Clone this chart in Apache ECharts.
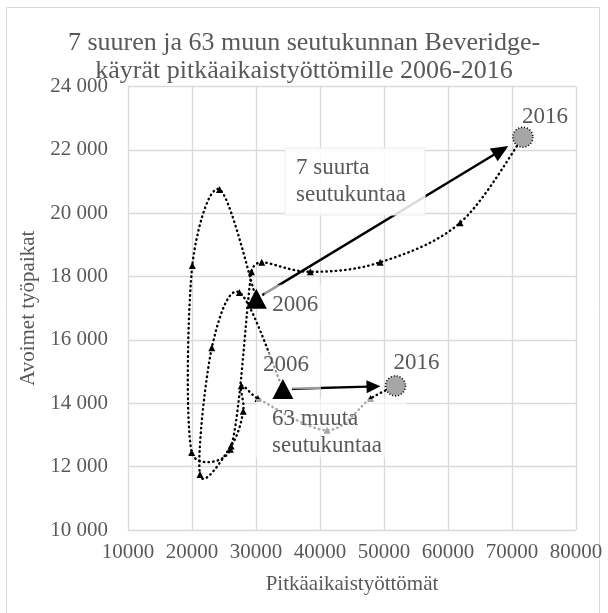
<!DOCTYPE html>
<html>
<head>
<meta charset="utf-8">
<script src="https://cdn.jsdelivr.net/npm/echarts@6/dist/echarts.min.js"></script>
<style>
html,body{margin:0;padding:0;background:#fff;}
#c{width:608px;height:613px;}
</style>
</head>
<body>
<div id="c"></div>
<script>
// ---- data ----
const years = [2006, 2007, 2008, 2009, 2010, 2011, 2012, 2013, 2014, 2015, 2016];
// 7 suurta seutukuntaa
const suuretX = [30050, 24300, 20050, 19950, 26000, 29300, 30900, 38500, 49400, 61900, 71700];
const suuretY = [17300, 20750, 18350, 12450, 12550, 18150, 18450, 18150, 18450, 19700, 22400];
// 63 muuta seutukuntaa
const muutX = [34200, 27400, 23100, 21250, 26100, 28000, 27700, 30300, 41100, 47900, 51800];
const muutY = [14450, 17500, 15750, 11750, 12650, 13750, 14550, 14150, 13150, 14150, 14550];
const xTicks = [10000, 20000, 30000, 40000, 50000, 60000, 70000, 80000];
const yTicks = [10000, 12000, 14000, 16000, 18000, 20000, 22000, 24000];
const seriesNames = ['7 suurta seutukuntaa', '63 muuta seutukuntaa'];
const labelNames = ['7 suurta\nseutukuntaa', '63 muuta\nseutukuntaa'];

const FONT = '"Liberation Serif", "DejaVu Serif", serif';
const GREY = '#595959';

const pts = (xs, ys) => xs.map((x, i) => [x, ys[i]]);
const suuret = pts(suuretX, suuretY);
const muut = pts(muutX, muutY);
const fmtY = v => String(v).replace(/\B(?=(\d{3})+(?!\d))/g, ' ');

// Excel-like smooth curve computed in pixel space (Catmull-Rom arms, capped by segment length)
function smoothCurve(points) {
  return function (params, api) {
    if (params.dataIndex !== 0) return {type: 'group', children: []};
    const p = points.map(d => api.coord(d));
    const n = p.length;
    const dist = (a, b) => Math.hypot(b[0] - a[0], b[1] - a[1]);
    const arm = (a, b, seg) => {
      let vx = (b[0] - a[0]) / 6, vy = (b[1] - a[1]) / 6;
      const len = Math.hypot(vx, vy), cap = seg * 0.4;
      if (len > cap && len > 0) { vx *= cap / len; vy *= cap / len; }
      return [vx, vy];
    };
    const out = [];
    for (let i = 0; i < n - 1; i++) {
      const p0 = p[Math.max(i - 1, 0)], p1 = p[i], p2 = p[i + 1], p3 = p[Math.min(i + 2, n - 1)];
      const d12 = dist(p1, p2);
      const a1 = arm(p0, p2, d12), a2 = arm(p1, p3, d12);
      const c1 = [p1[0] + a1[0], p1[1] + a1[1]];
      const c2 = [p2[0] - a2[0], p2[1] - a2[1]];
      const steps = 40;
      for (let s = (i === 0 ? 0 : 1); s <= steps; s++) {
        const t = s / steps, u = 1 - t;
        out.push([
          u * u * u * p1[0] + 3 * u * u * t * c1[0] + 3 * u * t * t * c2[0] + t * t * t * p2[0],
          u * u * u * p1[1] + 3 * u * u * t * c1[1] + 3 * u * t * t * c2[1] + t * t * t * p2[1]
        ]);
      }
    }
    return {
      type: 'polyline', shape: {points: out},
      style: {fill: null, stroke: '#000', lineWidth: 2.4, lineDash: [0.5, 4.2], lineCap: 'round'}
    };
  };
}

const chart = echarts.init(document.getElementById('c'), null, {renderer: 'canvas'});
const option = {
  animation: false,
  backgroundColor: '#fff',
  title: {
    text: '7 suuren ja 63 muun seutukunnan Beveridge-\nkäyrät pitkäaikaistyöttömille 2006-2016',
    left: 'center', top: 24,
    textStyle: {fontFamily: FONT, fontSize: 26, fontWeight: 'normal', color: GREY, lineHeight: 28}
  },
  grid: {left: 128, right: 32, top: 86.5, bottom: 83},
  xAxis: {
    type: 'value', min: xTicks[0], max: xTicks[xTicks.length - 1], interval: 10000,
    axisLine: {show: false}, axisTick: {show: false},
    splitLine: {lineStyle: {color: '#d9d9d9', width: 1.3}},
    axisLabel: {color: GREY, fontFamily: FONT, fontSize: 21, margin: 12, formatter: v => String(v)},
    name: 'Pitkäaikaistyöttömät', nameLocation: 'middle', nameGap: 44,
    nameTextStyle: {color: GREY, fontFamily: FONT, fontSize: 21}
  },
  yAxis: {
    type: 'value', min: yTicks[0], max: yTicks[yTicks.length - 1], interval: 2000,
    axisLine: {show: false}, axisTick: {show: false},
    splitLine: {lineStyle: {color: '#d9d9d9', width: 1.3}},
    axisLabel: {color: GREY, fontFamily: FONT, fontSize: 21, margin: 20, formatter: fmtY},
    name: 'Avoimet työpaikat', nameLocation: 'middle', nameGap: 86,
    nameTextStyle: {color: GREY, fontFamily: FONT, fontSize: 21}
  },
  series: [
    {name: seriesNames[0], type: 'custom', data: suuret, renderItem: smoothCurve(suuret), z: 2,
     encode: {x: 0, y: 1}, clip: false},
    {name: seriesNames[1], type: 'custom', data: muut, renderItem: smoothCurve(muut), z: 2,
     encode: {x: 0, y: 1}, clip: false},
    {type: 'scatter', symbol: 'triangle', symbolSize: 7, z: 3, itemStyle: {color: '#000', opacity: 1}, data: suuret.slice(1, -1)},
    {type: 'scatter', symbol: 'triangle', symbolSize: 7, z: 3, itemStyle: {color: '#000', opacity: 1}, data: muut.slice(1, -1)},
    {
      type: 'scatter', symbol: 'triangle', symbolSize: [21, 20], z: 20,
      itemStyle: {color: '#000', opacity: 1},
      data: [suuret[0], muut[0]]
    },
    {
      type: 'scatter', symbol: 'circle', symbolSize: 20, z: 20,
      itemStyle: {color: '#a6a6a6', opacity: 1, borderColor: '#000', borderWidth: 1.6, borderType: [1, 2]},
      data: [suuret[suuret.length - 1], muut[muut.length - 1]]
    }
  ]
};
chart.setOption(option);

function arrow(p0, p1, startPad, endPad, hl, hw) {
  const a = chart.convertToPixel({gridIndex: 0}, p0);
  const b = chart.convertToPixel({gridIndex: 0}, p1);
  const dx = b[0] - a[0], dy = b[1] - a[1];
  const L = Math.hypot(dx, dy), ux = dx / L, uy = dy / L;
  const s = [a[0] + ux * startPad, a[1] + uy * startPad];
  const e = [b[0] - ux * endPad, b[1] - uy * endPad];
  const base = [e[0] - ux * hl, e[1] - uy * hl];
  return [
    {type: 'line', z: 10, shape: {x1: s[0], y1: s[1], x2: base[0] + ux * 2, y2: base[1] + uy * 2},
     style: {stroke: '#000', lineWidth: 2.4}},
    {type: 'polygon', z: 10, shape: {points: [e, [base[0] - uy * hw, base[1] + ux * hw], [base[0] + uy * hw, base[1] - ux * hw]]},
     style: {fill: '#000'}}
  ];
}
function label(text, x, y) {
  return {
    type: 'text', z: 30, x: x, y: y,
    style: {text: text, font: '23px ' + FONT, fill: GREY, lineHeight: 27, textVerticalAlign: 'middle'}
  };
}
function box(x, y, w, h, alpha, stroke) {
  return {type: 'rect', z: 15, shape: {x: x, y: y, width: w, height: h},
          style: {fill: 'rgba(255,255,255,' + alpha + ')', stroke: stroke || null, lineWidth: 1}};
}
const n = years.length - 1;
const pS0 = chart.convertToPixel({gridIndex: 0}, suuret[0]);
const pS1 = chart.convertToPixel({gridIndex: 0}, suuret[n]);
const pM0 = chart.convertToPixel({gridIndex: 0}, muut[0]);
const pM1 = chart.convertToPixel({gridIndex: 0}, muut[n]);

const graphics = [].concat(
  arrow(suuret[0], suuret[n], 7, 17, 17, 7.5),
  arrow(muut[0], muut[n], 9, 15, 14, 6.5),
  [
    box(285, 148, 140, 67, 0.85, '#ececec'),
    label(labelNames[0], 296, 181),
    box(256, 399, 150, 58, 0.65),
    label(labelNames[1], 272, 432),
    box(pS0[0] + 8, pS0[1] - 14, 60, 36, 0.6),
    label(String(years[0]), pS0[0] + 16, pS0[1] + 6),
    label(String(years[n]), pS1[0] - 1, pS1[1] - 20),
    box(pM0[0] - 24, pM0[1] - 36, 62, 36, 0.6),
    label(String(years[0]), pM0[0] - 20, pM0[1] - 24),
    label(String(years[n]), pM1[0] - 2, pM1[1] - 23),
    {type: 'rect', z: 0, shape: {x: 6.5, y: 7.5, width: 593, height: 610}, style: {fill: null, stroke: '#d9d9d9', lineWidth: 1}}
  ]
);
chart.setOption({graphic: graphics});
</script>
</body>
</html>
